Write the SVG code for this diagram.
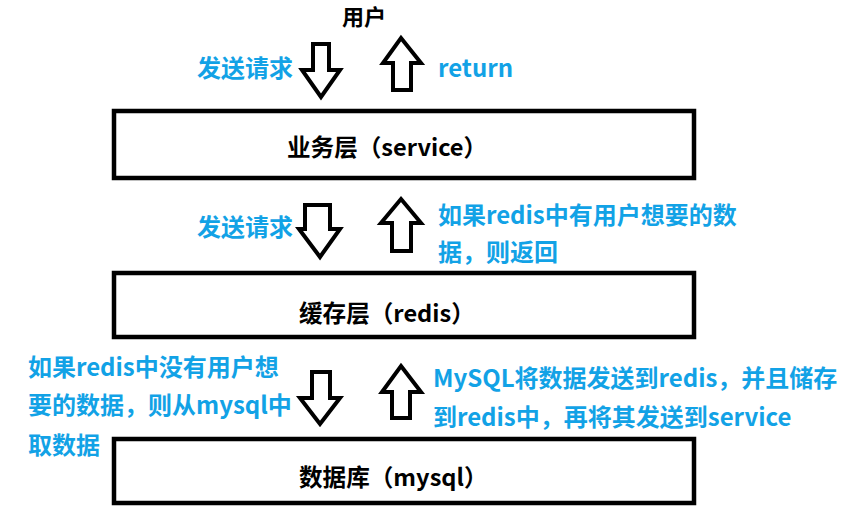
<svg xmlns="http://www.w3.org/2000/svg" width="852" height="520" viewBox="0 0 852 520">
<style>
.box{fill:#fff;stroke:#000;stroke-width:4.5}
.arr{fill:#fff;stroke:#000;stroke-width:4;stroke-linejoin:miter}
.lbl{font-family:"Noto Sans CJK SC","Noto Sans",sans-serif;font-weight:bold;font-size:23.6px;fill:#000}
.blue{font-family:"Noto Sans CJK SC","Noto Sans",sans-serif;font-weight:bold;font-size:24px;fill:#12a2e6}
</style>
<rect width="852" height="520" fill="#fff"/>
<g id="user"><text class="lbl" x="342" y="25" style="font-size:22px">用户</text></g>
<g id="service">
<rect class="box" x="114" y="111" width="580" height="67"/>
<text class="lbl" x="287" y="156">业务层（service）</text>
</g>
<g id="redis">
<rect class="box" x="114" y="273" width="580" height="64"/>
<text class="lbl" x="299" y="322">缓存层（redis）</text>
</g>
<g id="mysql">
<rect class="box" x="114" y="439" width="580" height="64"/>
<text class="lbl" x="299" y="486">数据库（mysql）</text>
</g>
<g id="connectors">
<polygon class="arr" points="313,44 329,44 329,70 340,70 321,97 302,70 313,70"/>
<polygon class="arr" points="401,38 421,63 411,63 411,90 393,90 393,63 383,63"/>
<polygon class="arr" points="305,205 330,205 330,229 340,229 320,257 299,229 305,229"/>
<polygon class="arr" points="401,199 421,223 411,223 411,251 392,251 392,223 381,223"/>
<polygon class="arr" points="312,372 330,372 330,398 340,398 320,424 300,398 312,398"/>
<polygon class="arr" points="401,366 421,392 410,392 410,418 392,418 392,392 382,392"/>
</g>
<g id="labels">
<text class="blue" x="197" y="77">发送请求</text>
<text class="blue" x="438" y="77">return</text>
<text class="blue" x="197" y="236">发送请求</text>
<text class="blue" x="438" y="224">如果redis中有用户想要的数</text>
<text class="blue" x="438" y="261">据，则返回</text>
<text class="blue" x="28" y="376">如果redis中没有用户想</text>
<text class="blue" x="28" y="414">要的数据，则从mysql中</text>
<text class="blue" x="28" y="454">取数据</text>
<text class="blue" x="433" y="387">MySQL将数据发送到redis，并且储存</text>
<text class="blue" x="433" y="426">到redis中，再将其发送到service</text>
</g>
</svg>
